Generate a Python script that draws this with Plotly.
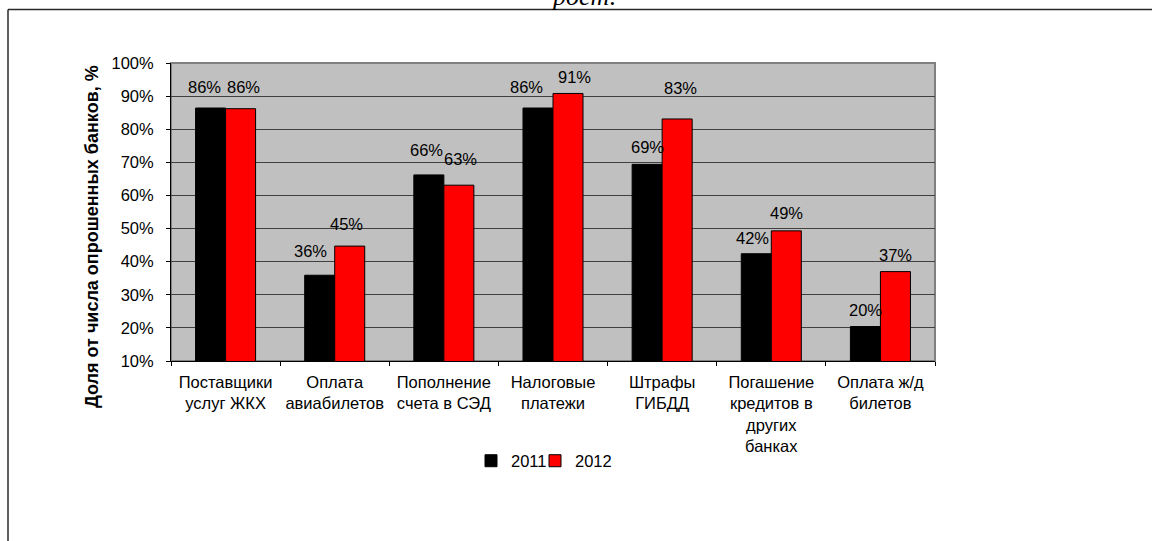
import plotly.graph_objects as go

# ---- data ----
categories = [
    "Поставщики<br>услуг ЖКХ",
    "Оплата<br>авиабилетов",
    "Пополнение<br>счета в СЭД",
    "Налоговые<br>платежи",
    "Штрафы<br>ГИБДД",
    "Погашение<br>кредитов в<br>других<br>банках",
    "Оплата ж/д<br>билетов",
]
values_2011 = [0.864, 0.359, 0.662, 0.864, 0.694, 0.424, 0.204]
values_2012 = [0.862, 0.447, 0.631, 0.908, 0.831, 0.493, 0.370]
series_names = ["2011", "2012"]
y_title = "Доля от числа опрошенных банков, %"
top_text = "рост."

# ---- style: label nudges (px) as placed in the original ----
label_dx_2011 = [-6, -9, -2, -11, 0, -4, 0]
label_dx_2012 = [3, -3, 2, 6, 3, 0, 0]
label_gap_2011 = [15, 18, 19, 15, 11, 10, 11]
label_gap_2012 = [16, 16, 20, 10, 25, 12, 11]

# ---- layout geometry (pixels) ----
W_FIG, H_FIG = 1152, 541
L, R, T, B = 171, 935, 63, 361
PW, PH = R - L, B - T
BARGAP = 0.45
BAR_W = PW / len(categories) * (1 - BARGAP) / 2


def px_x(px):
    return (px - L) / PW


def px_y(py):
    return (B - py) / PH


FONT = "Liberation Sans, Arial, sans-serif"
FS = 16.5

fig = go.Figure()
fig.add_trace(go.Bar(
    name=series_names[0], x=categories, y=values_2011, legend="legend",
    marker=dict(color="#000000", line=dict(color="#000000", width=1)),
))
fig.add_trace(go.Bar(
    name=series_names[1], x=categories, y=values_2012, legend="legend2",
    marker=dict(color="#FF0000", line=dict(color="#000000", width=1)),
))

# data labels
for vals, dxs, gaps, side in ((values_2011, label_dx_2011, label_gap_2011, -1),
                              (values_2012, label_dx_2012, label_gap_2012, 1)):
    for c, v, dx, g in zip(categories, vals, dxs, gaps):
        fig.add_annotation(
            x=c, y=v, xref="x", yref="y", text=f"{v:.0%}", showarrow=False,
            xanchor="center", yanchor="bottom",
            xshift=side * BAR_W / 2 + dx, yshift=g - 5,
            font=dict(family=FONT, size=FS, color="#000000"),
        )

legend_common = dict(
    orientation="h", yanchor="middle", y=px_y(461), xanchor="left",
    font=dict(family=FONT, size=FS, color="#000000"),
    itemwidth=30, bgcolor="rgba(0,0,0,0)",
)

fig.update_layout(
    width=W_FIG, height=H_FIG,
    margin=dict(l=L, r=W_FIG - R, t=T, b=H_FIG - B, pad=0),
    paper_bgcolor="#FFFFFF",
    plot_bgcolor="#C0C0C0",
    barmode="group", bargap=BARGAP, bargroupgap=0,
    font=dict(family=FONT, size=FS, color="#000000"),
    showlegend=True,
    legend=dict(x=px_x(471), **legend_common),
    legend2=dict(x=px_x(535), **legend_common),
)

fig.update_xaxes(
    type="category", showline=True, linecolor="#000000", linewidth=1,
    ticks="outside", tickson="boundaries", ticklen=4, tickcolor="#000000",
    tickfont=dict(family=FONT, size=FS, color="#000000"),
    showgrid=False, zeroline=False, tickangle=0, ticklabelstandoff=6,
)
fig.update_yaxes(
    range=[0.1, 1.0], dtick=0.1, tick0=0.1, tickformat=".0%",
    showline=True, linecolor="#000000", linewidth=1,
    ticks="outside", ticklen=4, tickcolor="#000000",
    tickfont=dict(family=FONT, size=FS, color="#000000"),
    showgrid=True, gridcolor="#404040", gridwidth=1, zeroline=False,
    ticklabelstandoff=9,
)

# plot-area border (gray) and outer frame lines
fig.add_shape(type="rect", xref="paper", yref="paper", x0=0, x1=1, y0=0, y1=1,
              line=dict(color="#808080", width=2), layer="below")
fig.add_shape(type="line", xref="paper", yref="paper",
              x0=px_x(8), x1=px_x(8), y0=px_y(9.5), y1=px_y(545),
              line=dict(color="#2a2a2a", width=1.5))
fig.add_shape(type="line", xref="paper", yref="paper",
              x0=px_x(8), x1=px_x(1160), y0=px_y(9.5), y1=px_y(9.5),
              line=dict(color="#2a2a2a", width=1.5))

# y-axis title (bold, rotated)
fig.add_annotation(
    text="<b>" + y_title + "</b>", xref="paper", yref="paper",
    x=px_x(92), y=px_y(237), xanchor="center", yanchor="middle",
    textangle=-90, showarrow=False,
    font=dict(family=FONT, size=18, color="#000000"),
)
# cut-off title text at the very top
fig.add_annotation(
    text="<i>" + top_text + "</i>", xref="paper", yref="paper",
    x=px_x(583), y=px_y(13), xanchor="center", yanchor="bottom",
    showarrow=False,
    font=dict(family="Liberation Serif, Times New Roman, serif", size=26, color="#000000"),
)

fig.write_html("out.html", config={"displayModeBar": False},
               post_script="document.body.style.margin='0';")
